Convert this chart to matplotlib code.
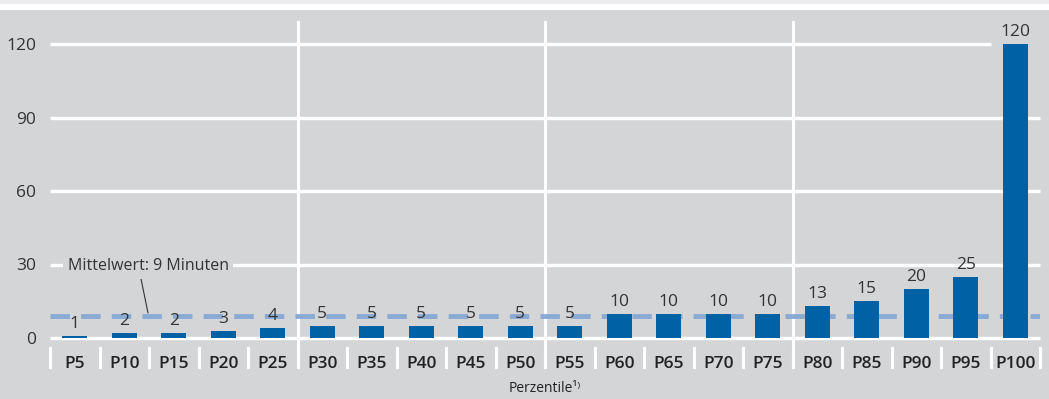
import matplotlib
matplotlib.use("Agg")
import matplotlib.pyplot as plt
from matplotlib.patches import Rectangle
from matplotlib.transforms import blended_transform_factory

# Daten
perzentile = ["P5", "P10", "P15", "P20", "P25", "P30", "P35", "P40", "P45", "P50",
              "P55", "P60", "P65", "P70", "P75", "P80", "P85", "P90", "P95", "P100"]
minuten = [1, 2, 2, 3, 4, 5, 5, 5, 5, 5, 5, 10, 10, 10, 10, 13, 15, 20, 25, 120]
mittelwert = 9
y_ticks = [0, 30, 60, 90, 120]
gruppen_grenzen = [4.5, 9.5, 14.5]

plt.rcParams['font.family'] = ['Open Sans', 'DejaVu Sans']

BG = "#d4d5d7"
BAR = "#0062a4"
MEAN = "#8aaad4"
TXT = "#333333"

fig = plt.figure(figsize=(10.49, 3.99), dpi=100, facecolor=BG)
# Kopfstreifen
fig.patches.append(Rectangle((0, 1 - 10 / 399), 1, 10 / 399, transform=fig.transFigure,
                             facecolor="white", edgecolor="none", zorder=0))
fig.patches.append(Rectangle((0, 1 - 4 / 399), 1, 4 / 399, transform=fig.transFigure,
                             facecolor="#ececee", edgecolor="none", zorder=0))

ax = fig.add_axes([50 / 1049, (399 - 338) / 399, 990 / 1049, 316 / 399])
ax.set_facecolor(BG)
x = list(range(len(perzentile)))
ax.set_xlim(-0.5, len(perzentile) - 0.5)
ax.set_ylim(0, 120 * 316 / 294)

# horizontale Gitterlinien
for t in y_ticks:
    x_end = 18.5 if t == 120 else len(perzentile) - 0.5
    ax.plot([-0.5, x_end], [t, t], color="white", lw=2.4, zorder=1,
            solid_capstyle="butt", clip_on=False)

# vertikale Trennlinien
trans = blended_transform_factory(ax.transData, ax.transAxes)
for g in gruppen_grenzen:
    ax.plot([g, g], [-0.093, 1.0], color="white", lw=2.2, transform=trans,
            clip_on=False, zorder=1)
for i in range(len(perzentile) + 1):
    ax.plot([i - 0.5, i - 0.5], [-0.033, -0.093], color="white", lw=2.2,
            transform=trans, clip_on=False, zorder=1)

ax.axhline(mittelwert, color=MEAN, lw=3.5, dashes=(4, 2.3), zorder=2)

bars = ax.bar(x, minuten, width=0.5, color=BAR, zorder=3)
for xi, v in zip(x, minuten):
    ax.text(xi, v + 1.6, str(v), ha="center", va="bottom", fontsize=12.5,
            color=TXT, zorder=4)

ax.annotate("Mittelwert: 9 Minuten", xy=(1.48, mittelwert + 1.2), xytext=(1.48, 29.5),
            fontsize=11.5, color=TXT, ha="center", va="center", zorder=5,
            bbox=dict(boxstyle="square,pad=0.3", fc=BG, ec="none"),
            arrowprops=dict(arrowstyle="-", color=TXT, lw=0.8, shrinkA=0, shrinkB=0,
                            relpos=(0.45, 0.0)))

ax.set_yticks(y_ticks)
ax.set_yticklabels([str(t) for t in y_ticks], fontsize=12.5, color=TXT)
ax.set_xticks(x)
ax.set_xticklabels(perzentile, fontsize=12.5, color="#222222", fontweight="semibold")
ax.tick_params(axis="both", length=0)
ax.tick_params(axis="x", pad=13)
ax.tick_params(axis="y", pad=10)
for s in ax.spines.values():
    s.set_visible(False)

fig.text(545 / 1049, 1 - 389 / 399, "Perzentile¹⁾", ha="center", va="center",
         fontsize=10, color="#222222")

fig.savefig("out.png", dpi=100, facecolor=BG)
